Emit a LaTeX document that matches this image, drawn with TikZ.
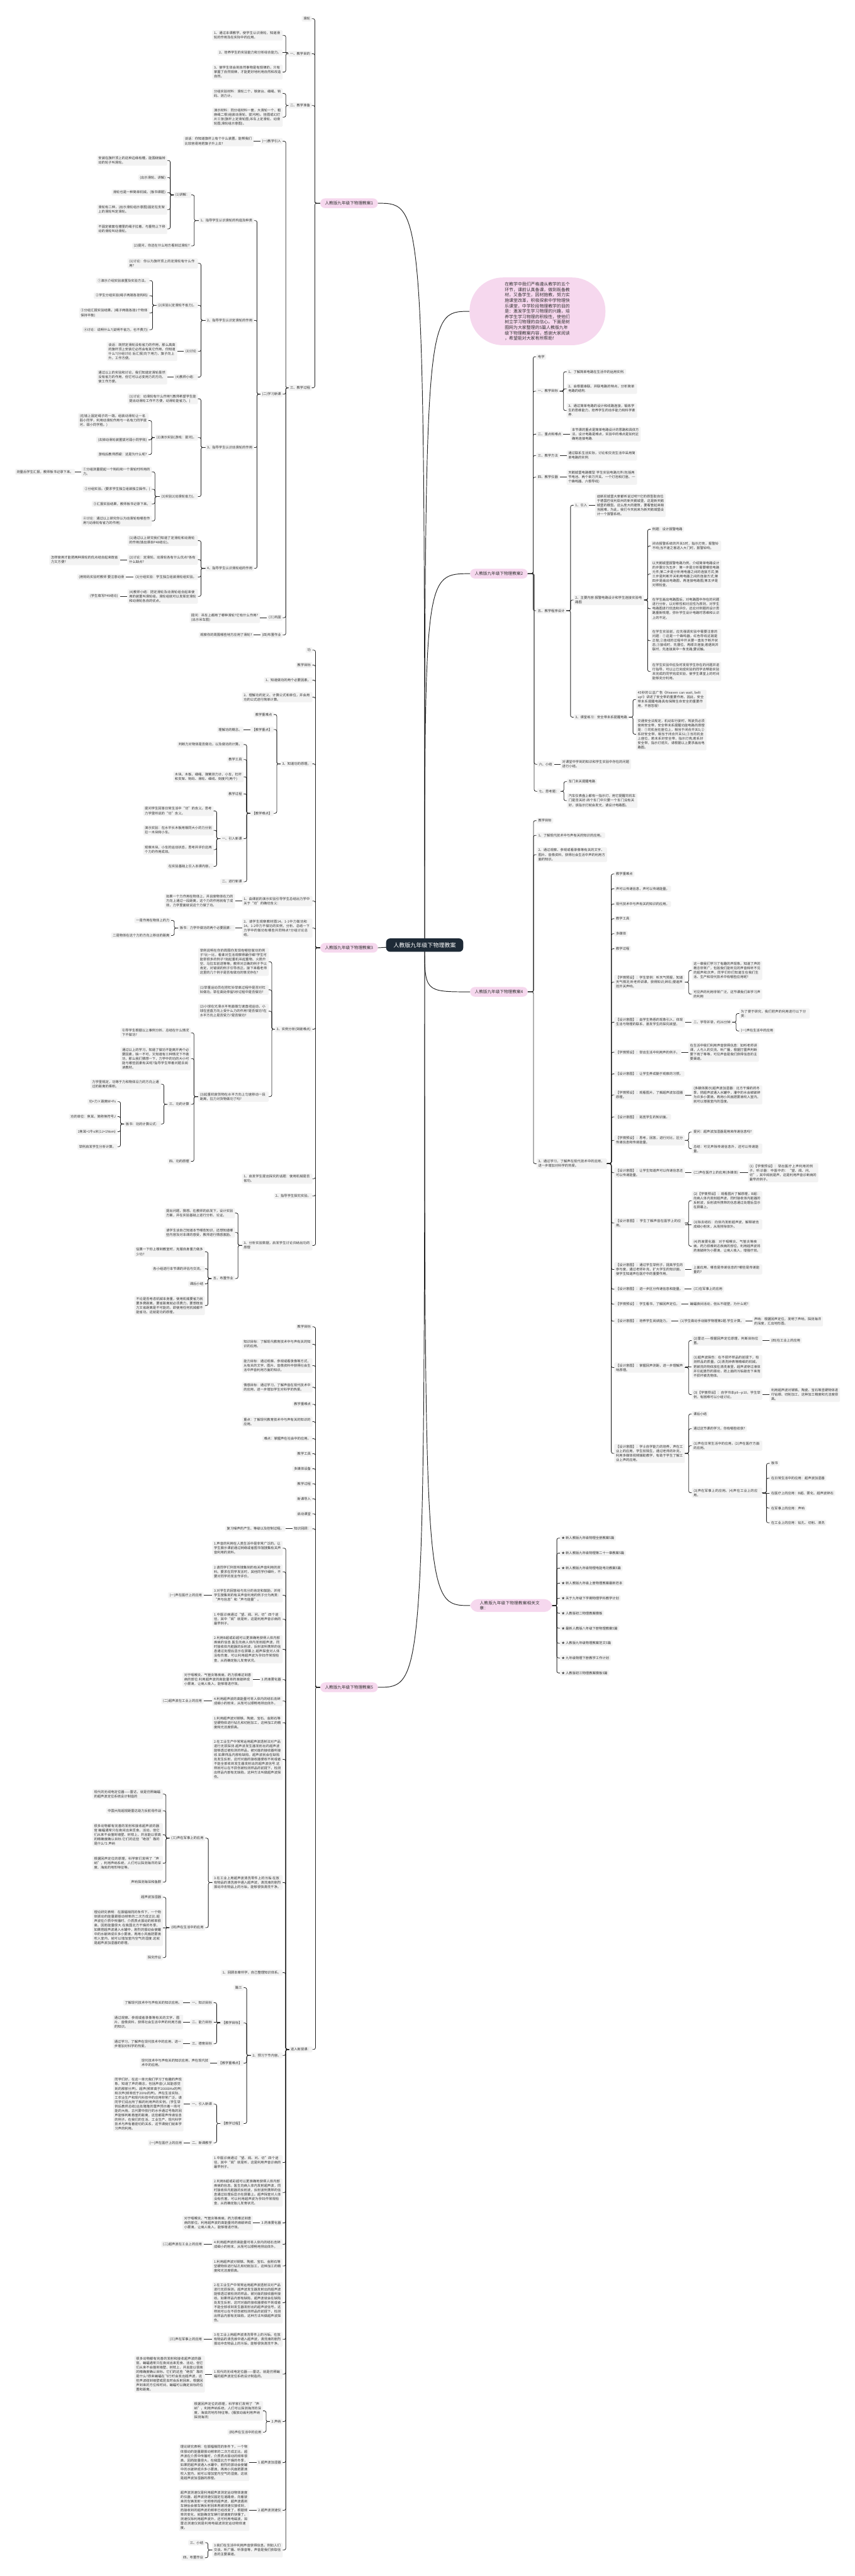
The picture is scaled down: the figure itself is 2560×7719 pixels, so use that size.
\documentclass[tikz,border=0pt]{standalone}
\usepackage{fontspec}
\newfontfamily\cjk{Noto Sans CJK SC}
\XeTeXlinebreaklocale "zh"
\XeTeXlinebreakskip=0pt plus 1pt
\definecolor{txt}{HTML}{333333}
\definecolor{boxc}{HTML}{F3F3F3}
\definecolor{pinkc}{HTML}{F6D8EE}
\definecolor{darkc}{HTML}{1E2A36}
\definecolor{linec}{HTML}{222222}
\newcommand\myfs{\cjk\fontsize{10}{13.3}\selectfont}
\newcommand\myL[4][]{\node[box,anchor=east,#1] (#2) at (#3) {#4};}
\newcommand\myR[4][]{\node[box,anchor=west,#1] (#2) at (#3) {#4};}
\newcommand\myLC[2]{\foreach \myc in {#2}{%
  \path (\myc.east); \pgfgetlastxy{\mycx}{\mycy}%
  \path (#1.west); \pgfgetlastxy{\mypx}{\mypy}%
  \pgfmathsetmacro\mydd{abs(\mycy-(\mypy))}%
  \ifdim\mydd pt<6pt \draw[conn] (\myc.east) -- (\myc.east -| #1.west);%
  \else \draw[conn] (\myc.east) -- ++(9,0) |- (#1.west);\fi}}
\newcommand\myRC[2]{\foreach \myc in {#2}{%
  \path (\myc.west); \pgfgetlastxy{\mycx}{\mycy}%
  \path (#1.east); \pgfgetlastxy{\mypx}{\mypy}%
  \pgfmathsetmacro\mydd{abs(\mycy-(\mypy))}%
  \ifdim\mydd pt<6pt \draw[conn] (\myc.west) -- (\myc.west -| #1.east);%
  \else \draw[conn] (\myc.west) -- ++(-9,0) |- (#1.east);\fi}}
\begin{document}
\begin{tikzpicture}[x=1pt,y=-1pt,
  box/.style={fill=boxc,rounded corners=3pt,inner xsep=5pt,inner ysep=4pt,font=\myfs,text=txt,align=left},
  mw/.style={text width=201pt},
  lvl/.style={fill=pinkc,rounded corners=14pt,inner xsep=14pt,inner ysep=6pt,minimum height=29pt,font=\cjk\fontsize{12.5}{15}\selectfont,text=txt},
  ctrs/.style={fill=darkc,text=white,rounded corners=12pt,inner xsep=22pt,minimum height=40pt,font=\cjk\fontsize{17}{20}\selectfont},
  bubble/.style={fill=pinkc,rounded corners=100pt,minimum width=407pt,minimum height=203pt,text width=196pt,align=left,inner sep=0pt,font=\cjk\fontsize{13}{16.3}\selectfont,text=txt},
  conn/.style={draw=linec,line width=1.5pt,rounded corners=5pt},
  conn0/.style={draw=linec,line width=1.8pt}]
\fill[white] (0,0) rectangle (2560,7719);
\useasboundingbox (0,0) rectangle (2560,7719);
\coordinate (cc) at (1272,2832);
% level 1
\node[lvl,anchor=east] (A) at (1132,609) {人教版九年级下物理教案1};
\node[lvl,anchor=east] (C) at (1132,2840) {人教版九年级下物理教案3};
\node[lvl,anchor=east] (E) at (1132,5056) {人教版九年级下物理教案5};
\node[bubble] (Q) at (1610,933) {在教学中我们严格遵从教学的五个\\环节，课前认真备课，做到既备教\\材，又备学生，因材施教，努力实\\施课堂改革，积极探索中学物理快\\乐课堂，中学阶段物理教学的目的\\是：激发学生学习物理的兴趣，培\\养学生学习物理的积极性，使他们\\树立学习物理的自信心。下面是树\\图网为大家整理的5篇人教版九年\\级下物理教案内容，感谢大家阅读\\，希望能对大家有所帮助！};
\node[lvl,anchor=west] (B) at (1408,1719) {人教版九年级下物理教案2};
\node[lvl,anchor=west] (D) at (1408,2972) {人教版九年级下物理教案4};
\node[lvl,anchor=west,text width=188pt,align=left,inner xsep=29pt,rounded corners=24pt] (F) at (1408,4811) {人教版九年级下物理教案相关文章：};
% ===== 教案1 =====
\myL{a1}{934,56}{滑轮}
\myL{a2}{934,161}{一、教学目的}
\myL{a3}{934,316}{二、教学准备}
\myL{a4}{934,1162}{三、教学过程}
\myL[mw]{a21}{847,106}{1、通过本课教学，使学生认识滑轮，知道滑轮的作用及在实际中的应用。}
\myL{a22}{847,158}{2、培养学生的实验能力和分析综合能力。}
\myL[mw]{a23}{847,216}{3、使学生体会到自然事物是有规律的，只有掌握了自然规律，才能更好地利用自然和改造自然。}
\myL[mw]{a31}{847,280}{分组实验材料：滑轮二个、铁架台、细绳、钩码、测力计。}
\myL[mw]{a32}{847,351}{演示材料：同分组材料一套，大滑轮一个、粗麻绳二根(组装动滑轮、拔河用)。挂图或幻灯片三张(旗杆上定滑轮图;吊车上定滑轮、动滑轮图;滑轮组示意图)。}
\myL{a41}{847,423}{(一)教学引入}
\myL{a42}{847,1181}{(二)学习新课}
\myL{a43}{847,1851}{(三)巩固}
\myL{a44}{847,1903}{(四)布置作业}
\myL[mw]{a411}{760,423}{谈话：你知道旗杆上有个什么装置，能帮我们比较容易地把旗子升上去?}
\myL{a421}{761,661}{1、指导学生认识滑轮的构造及种类}
\myL{a422}{761,960}{2、指导学生认识定滑轮的作用}
\myL{a423}{761,1341}{3、指导学生认识动滑轮的作用}
\myL{a424}{761,1703}{4、指导学生认识滑轮组的作用}
\myL{a4211}{573,584}{(1)讲解：}
\myL{a4212}{573,737}{(2)提问，你还在什么地方看到过滑轮?}
\myL[mw]{x1}{501,481}{安装在旗杆顶上的这种边缘有槽，能围绕轴转动的轮子叫滑轮。}
\myL{x2}{501,532}{(出示滑轮、讲解)}
\myL{x3}{501,577}{滑轮也是一种简单机械。(板书课题)}
\myL[mw]{x4}{501,628}{滑轮有二种，(出示滑轮组示意图)固定在支架上的滑轮叫定滑轮。}
\myL[mw]{x5}{501,686}{不固定被套在槽里的绳子拉着，与重物上下移动的滑轮叫动滑轮。}
\myL[mw]{b1}{593,789}{(1)讨论：你认为旗杆顶上的定滑轮有什么作用?}
\myL{b2}{593,915}{(2)实验1(定滑轮不省力)。}
\myL{b3}{593,1053}{(3)讨论}
\myL{b4}{593,1130}{(4)教师小结：}
\myL{b21}{448,841}{①演示介绍实验装置及实验方法。}
\myL{b22}{448,886}{②学生分组实验(绳子两端各挂钩码)}
\myL[mw]{b23}{448,938}{③分组汇报实验结果。(绳子两端各挂1个物体保持平衡)}
\myL{b24}{448,988}{④讨论：说明什么?(说明不省力，也不费力)}
\myL[mw]{b31}{531,1053}{谈话：既然定滑轮没有省力的作用，那么高高的旗杆顶上安装它必然会有其它作用，你知道什么?(分组讨论 后汇报)向下用力，旗子向上升。工作方便。}
\myL[mw]{b41}{501,1130}{通过以上的实验和讨论，我们知道定滑轮虽然没有省力的作用，但它可以必变用力的方向，使工作方便。}
\myL[mw]{c1}{593,1195}{(1)讨论：动滑轮有什么作用?(教师希望学生能提出动滑轮工作不方便，动滑轮能省力。)}
\myL{c2}{593,1311}{(2)演示实验(游戏：拔河)。}
\myL{c3}{593,1488}{(3)实验2(动滑轮省力)。}
\myL[mw]{c21}{445,1260}{(在墙上固定绳子的一端，组装动滑轮让一名弱小同学，利用动滑轮作用与一名有力同学拔河，弱小同学胜。)}
\myL{c22}{445,1318}{(去掉动滑轮装置拔河弱小同学败)}
\myL{c23}{445,1362}{游戏后教师质疑：这是为什么呢?}
\myL[mw]{c31}{455,1414}{①分组测量提起一个钩码和一个滑轮时所用的力。}
\myL{c32}{455,1466}{②分组实验。(要求学生独立组装独立操作。)}
\myL{c33}{455,1510}{③汇报实验结果，教师板书记录下来。}
\myL[mw]{c34}{455,1561}{④讨论：通过以上研究你认为动滑轮有哪些作用?(动滑轮有省力的作用)}
\myL{c311}{225,1414}{测量后学生汇报，教师板书记录下来。}
\myL[mw]{d1}{593,1620}{(1)通过以上研究我们知道了定滑轮和动滑轮的作用(填出课本P48结论)。}
\myL[mw]{d2}{593,1677}{(2)讨论：定滑轮、动滑轮各有什么优点?各有什么缺点?}
\myL{d3}{593,1729}{(3)分组实验：学生独立组装滑轮组实验。}
\myL[mw]{d4}{593,1787}{(4)教师小结：把定滑轮及动滑轮组合起来使用的装置叫滑轮组。滑轮组就可以发挥定滑轮和动滑轮各自的优点。}
\myL[mw]{d21}{359,1678}{怎样使用才能把两种滑轮的优点结合起来既省力又方便?}
\myL{d31}{377,1729}{(用钩码实验时教师 要注意动滑}
\myL{d41}{359,1787}{(学生填写P49结论)}
\myL[mw]{a431}{779,1851}{提问：吊车上都用了哪种滑轮?它有什么作用?(出示吊车图)}
\myL{a441}{760,1903}{观察你的周围哪些地方应用了滑轮?}
% ===== 教案3 =====
\myL{C1}{936,1948}{功}
\myL{C2}{936,1993}{教学目标}
\myL{C3}{936,2038}{1、知道做功的两个必要因素。}
\myL[mw]{C4}{936,2089}{2、理解功的定义、计算公式和单位，并会用功的公式进行简单计算。}
\myL{C5}{936,2289}{3、知道功的原理。}
\myL[mw]{C6}{936,2700}{1、由课前的演示实验引导学生总结出力学中关于“功”的确切含义：}
\myL[mw]{C7}{936,2781}{2、请学生观察教材图14。1-1中力做功和14。1-2中力不做功的实例，分析、总结一下力学中的做功有哪些共同特点?分组讨论总结。}
\myL{C8}{936,3084}{3、实例分析(突破难点)}
\myL[mw]{C9}{936,3532}{1、启发学生提出探究的话题：使用机械是否省功。}
\myL{C10}{936,3584}{2、指导学生探究实验。}
\myL[mw]{C11}{936,3732}{3、分析实验数据，启发学生讨论归纳出功的原理}
\myL{C51}{820,2141}{教学重难点}
\myL{C52}{820,2186}{【教学重点】}
\myL{C53}{820,2437}{【教学难点】}
\myL{C521}{730,2186}{理解功的概念。}
\myL{C531}{730,2231}{判断力对物体是否做功，以及做功的计算。}
\myL{C532}{730,2276}{教学工具}
\myL[mw]{C533}{730,2328}{木块、木板、细绳、弹簧测力计、小车，杠杆和支架、钩码、滑轮、细线、刻度尺(两个)}
\myL{C534}{730,2379}{教学过程}
\myL{C535}{730,2513}{一、引入新课}
\myL{C536}{730,2642}{二、进行新课}
\myL[mw]{C5351}{640,2430}{提问学生回答日常生活中“功”的含义。思考力学里所说的“功”含义。}
\myL[mw]{C5352}{640,2488}{演示实验：在水平长木板用相同大小的力分别拉一木块和小车。}
\myL[mw]{C5353}{640,2546}{观察木块、小车的运动状态，思考并评价这两个力的作用成效。}
\myL{C5354}{640,2596}{在实验基础上引入本课内容。}
\myL[mw]{C61}{704,2700}{如果一个力作用在物体上，并且使物体在力的方向上通过一段距离，这个力的作用就有了成效，力学里面就说这个力做了功。}
\myL{C71}{704,2781}{板书：力学中做功的两个必要因素：}
\myL{C711}{513,2758}{一是作用在物体上的力}
\myL{C712}{513,2803}{二是物体在这个力的方向上移动的距离}
\myL[mw]{C81}{805,2882}{举例说明在你的周围你发现有哪些做功的例子?比一比，看谁对生活观察得最仔细?学生可能举很多的例子?如起重机吊起重物、火箭升空、马拉车前进等等。教师对正确的例子予以肯定，对错误的例子引导改正。接下来看老师这里的几个例子是否有做功的情况存在?}
\myL[mw]{C82}{805,2966}{(1)举重运动员在把杠铃举高过程中是否对杠铃做功。举在高处停留5秒过程中是否做功?}
\myL[mw]{C83}{805,3030}{(2)小球在光滑水平地面做匀速直线运动，小球在竖直方向上受什么力的作用?是否做功?在水平方向上是否受力?是否做功?}
\myL[mw]{C84}{805,3286}{(3)起重机使货物在水平方向上匀速移动一段距离，拉力对货物做功了吗?}
\myL[mw]{C841}{572,3095}{引导学生根据以上事例分析、总结在什么情况下不做功?}
\myL[mw]{C842}{572,3172}{通过以上的学习，知道了做功不能离开两个必要因素，缺一不可，又知道有三种情况下不做功，那么我们猜想一下，力学中的功的大小可能与哪些因素有关呢?指导学生带着问题去阅读教材。}
\myL{C843}{572,3309}{三、功的计算}
\myL{C844}{572,3480}{四、功的原理}
\myL[mw]{C8431}{482,3249}{力学里规定，功等于力和物体沿力的方向上通过的距离的乘积。}
\myL{C8432}{482,3368}{板书：功的计算公式：}
\myL{p1}{352,3301}{功=力×距离W=Fs}
\myL{p2}{352,3346}{功的单位：焦耳，简称焦符号J}
\myL{p3}{352,3391}{1焦耳=1牛o米(1J=1Nom)}
\myL{p4}{352,3436}{举例启发学生分析计算。}
\myL[mw]{C111}{704,3635}{提出问题，猜想。在教师的启发下，设计实验方案，并在实验基础上进行分析、论证。}
\myL[mw]{C112}{704,3693}{请学生谈自己知道本节哪些知识，还想知道哪些内容及对本课的感受，教师进行情感激励。}
\myL{C113}{704,3831}{五、布置作业}
\myL[mw]{C1131}{614,3751}{估算一下你上楼到教室时，克服自身重力做多少功?}
\myL{C1132}{614,3802}{各小组进行本节课的评估与交流。}
\myL{C1133}{614,3847}{课后小结}
\myL[mw]{C1134}{614,3912}{不论是否考虑机械本身重，使用机械要省力就要多费距离，要省距离就必须费力，要想既省力又省距离是不可能的。即使用任何机械都不能省功。这就是功的原理。}
% ===== 教案5 =====
\myL{E1}{936,3976}{教学目标}
\myL[mw]{E2}{936,4028}{知识目标：了解现代教育技术中与声有关的知识的应用。}
\myL[mw]{E3}{936,4092}{能力目标：通过观察、参观或看录像等方式，从有关的文字、图片、音像资料中获得社会生活中声音利用方面的知识。}
\myL[mw]{E4}{936,4157}{情感目标：通过学习，了解声音在现代技术中的应用，进一步增加学生对科学的热爱。}
\myL{E5}{936,4208}{教学重难点}
\myL[mw]{E6}{936,4260}{重点：了解现代教育技术中与声有关的知识的应用。}
\myL{E7}{936,4311}{难点：掌握声在社会中的应用。}
\myL{E8}{936,4356}{教学工具}
\myL{E9}{936,4401}{多媒体设备}
\myL{E10}{936,4446}{教学过程}
\myL{E11}{936,4491}{新课导入}
\myL{E12}{936,4536}{启动课堂}
\myL{E13}{936,4581}{知识回顾：}
\myL{E14}{936,6141}{进入新授课：}
\myL{E131}{855,4581}{复习噪声的产生、等级以及控制过程。}
\myL[mw]{F1}{847,4639}{1.声音的利用在人类生活中是非常广泛的。让学生展示课前通过网络或者图书馆搜集有关声音利用的资料。}
\myL[mw]{F2}{847,4710}{2.请同学们列举所搜集到的有关声音利用的资料。要求在同学发言时，其他同学仔细听，不要对同学的发言作评价。}
\myL[mw]{F3}{847,4780}{3.对学生的回答给与充分的肯定和鼓励，并将学生搜集到的有关声音利用的例子分为两类：“声与信息”和“声与能量”。}
\myL{F31}{610,4780}{(一)声在医疗上的应用}
\myL[mw]{F4}{847,4852}{1.中医诊病通过“望、闻、问、切”四个途径，其中“闻”就是听，这是利用声音诊病的最早例子。}
\myL[mw]{F5}{847,4942}{2.利用B超或彩超可以更准确地获得人体内部疾病的信息.医生向病人体内发射超声波，同时接收体内脏器的反射波，反射波所携带的信息通过处理后显示在屏幕上.超声探查对人体没有伤害，可以利用超声波为孕妇作常规检查，从而确定胎儿发育状况。}
\myL{F6}{847,5033}{3.药液雾化器}
\myL[mw]{F61}{758,5033}{对于咽喉炎、气管炎等疾病，药力很难达到患病的部位.利用超声波的高能量将药液破碎成小雾滴，让病人吸入，能够增进疗效。}
\myL[mw]{F7}{847,5097}{4.利用超声波的高能量可将人体内的结石击碎成细小的粉末，从而可以顺畅地排出体外。}
\myL{F71}{610,5097}{(二)超声波在工业上的应用}
\myL[mw]{F8}{847,5162}{1.利用超声波对钢铁、陶瓷、宝石、金刚石等坚硬物体进行钻孔和切削加工，这种加工的精度和光洁度很高。}
\myL[mw]{F9}{847,5272}{2.在工业生产中常常运用超声波透射法对产品进行无损探测.超声波发生器发射出的超声波能够透过被检测的样品，被对面的接收器所接收.如果样品内部有缺陷，超声波就会在缺陷处发生反射，这时对面的接收器便收不到或者不能全部收到发生器发射出的超声波信号.这样就可以在不损伤被检测样品的前提下，检测出样品内部有无缺陷，这种方法叫做超声波探伤。}
\myL[mw]{F10}{847,5641}{3.在工业上用超声波清洗零件上的污垢.在放有物品的清洗液中通入超声波，清洗液的剧烈振动冲击物品上的污垢，能够很快清洗干净。}
\myL{F101}{615,5508}{(三)声在军事上的应用}
\myL{F102}{615,5776}{(四)声在生活中的应用}
\myL[mw]{r1}{488,5376}{现代的无线电定位器——雷达，就是仿照蝙蝠的超声波定位系统设计制造的}
\myL{r2}{488,5426}{中国大陆超视距雷达助力反航母作战}
\myL[mw]{r3}{488,5498}{很多动物都有完善的发射和接收超声波的器官.蝙蝠通常只在夜间出来觅食、活动，但它们从来不会撞到墙壁、树枝上，并且能以很高的精确度确认目标.它们的这些“绝技”靠的是什么?2.声纳}
\myL[mw]{r4}{488,5583}{根据回声定位的原理，科学家们发明了“声纳”，利用声纳系统，人们可以探测海洋的深度、海底的地形特征等。}
\myL{r5}{488,5640}{声呐探测海深和鱼群}
\myL{s1}{488,5685}{超声波加湿器}
\myL[mw]{s2}{488,5776}{理论研究表明：在振幅相同的条件下，一个物体振动的能量跟振动频率的二次方成正比.超声波在介质中传播时，介质质点振动的频率很高，因而能量很大.在我国北方干燥的冬季，如果把超声波通入水罐中，剧烈的振动会使罐中的水破碎成许多小雾滴，再用小风扇把雾滴吹入室内，就可以增加室内空气的湿度.这就是超声波加湿器的原理。}
\myL{s3}{488,5866}{探究作业}
\myL{F11}{847,5911}{1、回顾本章所学，自己整理知识体系。}
\myL{F12}{847,6159}{2、预习下节内容。}
\myL{G1}{730,5956}{篇三}
\myL{G2}{730,6062}{【教学目标】}
\myL{G3}{730,6182}{【教学重难点】}
\myL{G4}{730,6363}{【教学过程】}
\myL{G21}{640,6001}{一、知识目标}
\myL{G22}{640,6059}{二、能力目标}
\myL{G23}{640,6124}{三、德育目标}
\myL{G211}{549,6001}{了解现代技术中与声有关的知识应用。}
\myL[mw]{G221}{549,6059}{通过观察、参观或者录像等有关的文字、图片、音像资料，获得社会生活中声的利用方面的知识。}
\myL[mw]{G231}{549,6124}{通过学习，了解声在现代技术中的应用，进一步增加对科学的热爱。}
\myL[mw]{G31}{630,6182}{现代技术中与声有关的知识应用，声在现代技术中的应用。}
\myL{G41}{640,6305}{一、引入新课}
\myL{G42}{640,6421}{二、新课教学}
\myL[mw]{G411}{550,6305}{同学们好，在这一单元我们学习了有趣的声现象，知道了声的概念，包括声音(人耳能感觉到的那部分声)、超声(频率高于20000Hz的声)和次声(频率低于20Hz的声)。声在生活实际、工农业生产和现代科技中的应用非常广泛，请同学们说出所了解的利用声的实例。(学生举例后教师总结)远处隆隆的雷声预示着一场可能的大雨。古代雾中航行的水手通过号角的回声能够判断悬崖的距离，这些都是声传递信息的例子。在我们的生活、工业生产、现代科学技术与声有着密切的关系，这节课我们就来学习声的利用。}
\myL{G421}{550,6421}{(一)声在医疗上的应用}
\myL[mw]{F13}{847,6480}{1.中医诊病通过“望、闻、问、切”四个途径，其中“闻”就是听，这是利用声音诊病的最早例子。}
\myL[mw]{F14}{847,6570}{2.利用B超或彩超可以更准确地获得人体内部疾病的信息。医生向病人体内发射超声波，同时接收体内脏器的反射波，反射波所携带的信息通过处理后显示在屏幕上。超声探查对人体没有伤害，可以利用超声波为孕妇作常规检查，从而确定胎儿发育状况。}
\myL{F15}{847,6661}{3.药液雾化器}
\myL[mw]{F151}{758,6661}{对于咽喉炎、气管炎等疾病，药力很难达到患病的部位。利用超声波的高能量将药液破碎成小雾滴，让病人吸入，能够增进疗效。}
\myL[mw]{F16}{847,6725}{4.利用超声波的高能量可将人体内的结石击碎成细小的粉末，从而可以顺畅地排出体外。}
\myL{F161}{610,6725}{(二)超声波在工业上的应用}
\myL[mw]{F17}{847,6790}{1.利用超声波对钢铁、陶瓷、宝石、金刚石等坚硬物体进行钻孔和切削加工，这种加工的精度和光洁度很高。}
\myL[mw]{F18}{847,6900}{2.在工业生产中常常运用超声波透射法对产品进行无损探测。超声波发生器发射出的超声波能够透过被检测的样品，被对面的接收器所接收。如果样品内部有缺陷，超声波就会在缺陷处发生反射，这时对面的接收器便收不到或者不能全部收到发生器发射出的超声波信号。这样就可以在不损伤被检测样品的前提下，检测出样品内部有无缺陷，这种方法叫做超声波探伤。}
\myL[mw]{F19}{847,7010}{3.在工业上用超声波清洗零件上的污垢。在放有物品的清洗液中通入超声波，清洗液的剧烈振动冲击物品上的污垢，能够很快清洗干净。}
\myL{F191}{610,7010}{(三)声在军事上的应用}
\myL[mw]{F20}{847,7114}{1.现代的无线电定位器——雷达，就是仿照蝙蝠的超声波定位系统设计制造的。}
\myL[mw]{F201}{614,7114}{很多动物都有完善的发射和接收超声波的器官。蝙蝠通常只在夜间出来觅食、活动，但它们从来不会撞到墙壁、树枝上，并且能以很高的精确度确认目标。它们的这些“绝技”靠的是什么?原来蝙蝠在飞行时会发出超声波，这些声波碰到墙壁或昆虫时会反射回来，根据回声到来的方位和时间，蝙蝠可以确定目标的位置和距离。}
\myL{F21}{847,7256}{2.声纳}
\myL[mw]{F211}{788,7224}{根据回声定位的原理，科学家们发明了“声纳”，利用声纳系统，人们可以探测海洋的深度、海底的地形特征等。(播放动画利用声纳探测海洋)}
\myL{F212}{788,7288}{(四)声在生活中的应用}
\myL{F22}{847,7379}{1.超声波加湿器}
\myL[mw]{F221}{747,7379}{理论研究表明：在振幅相同的条件下，一个物体振动的能量跟振动频率的二次方成正比。超声波在介质中传播时，介质质点振动的频率很高，因而能量很大。在我国北方干燥的冬季，如果把超声波通入水罐中，剧烈的振动会使罐中的水破碎成许多小雾滴，再用小风扇把雾滴吹入室内，就可以增加室内空气的湿度。这就是超声波加湿器的原理。}
\myL{F23}{847,7522}{2.超声波测速仪}
\myL[mw]{F231}{747,7522}{超声波测速仪是利用超声波测定运动物体速度的仪器，超声波测速仪固定在道路旁，向着驶来的车辆发射一定频率的超声波，超声波遇到车辆后会被车辆反射回来再被测速仪接收到，而接收到的超声波的频率已经改变了，根据频率的变化，就能确定车辆行驶速度的快慢了。测速仪除利用超声波外，还可利用电磁波，如雷达测速仪就是利用电磁波测定运动物体速度。}
\myL[mw]{F24}{847,7641}{3.我们在生活中利用声音获得信息。例如人们交谈、听广播、听录音等，声音是我们获取信息的主要渠道。}
\myL{F241}{614,7619}{三、小结}
\myL{F242}{614,7664}{四、布置作业}
% ===== 教案2 =====
\myR{B1}{1606,1069}{电学}
\myR{B2}{1606,1172}{一、教学目标}
\myR{B3}{1606,1301}{二、重点和难点}
\myR{B4}{1606,1365}{三、教学方法}
\myR{B5}{1606,1430}{四、教学仪器}
\myR{B6}{1606,1830}{五、教学程序设计}
\myR{B7}{1609,2290}{六、小结}
\myR{B8}{1609,2371}{七、思考题：}
\myR{B21}{1697,1114}{1、了解简单电路在生活中的运用实例.}
\myR[mw]{B22}{1697,1165}{2、会根据串联、并联电路的特点，分析简单电路的结构.}
\myR[mw]{B23}{1697,1230}{3、通过简单电路的设计和线路连接，锻炼学生的思维能力，培养学生的动手能力和科学素养.}
\myR[mw]{B31}{1708,1301}{本节课的重点是简单电路设计的思路和具体方法，设计电路是难点，实验中的难点是如何正确地连接电路.}
\myR[mw]{B41}{1697,1365}{通过联系生活实际，讨论和交流生活中采用简单电路的实例.}
\myR[mw]{B51}{1697,1430}{天鹅城堡电路模型 学生实验电路元件(包括两节电池、两个单刀开关、一个灯泡和灯座、一个蜂鸣器、六根导线)}
\myR{B61}{1718,1514}{1、引入}
\myR[mw]{B62}{1718,1798}{2、主要内容:报警电路设计和学生连接实验电路图}
\myR{B63}{1718,2149}{3、课堂练习：安全带未系提醒电路}
\myR[mw]{B611}{1783,1514}{迪斯尼城堡大家都听说过吧?!它的原型取自位于德国巴伐利亚州的新天鹅城堡，这是新天鹅城堡的模型。这么庞大的建筑，要看管起来相当困难，为此，我们今天就来为新天鹅城堡设计一个报警系统。}
\myR{B621}{1949,1586}{例题：设计报警电路}
\myR[mw]{B622}{1949,1636}{闭合报警系统的开关S时，指示灯亮，报警铃不响;当不速之客进入大门时，报警铃响。}
\myR[mw]{B623}{1949,1720}{以天鹅城堡报警电路为例，介绍简单电路设计的步骤分为五步：第一步是分析需要哪些电路元件;第二步是分析用电器之间的连接方式;第三步是判断开关和用电器之间的连接方式;第四步是画出电路图，再连接电路图;第五步是对照检查。}
\myR[mw]{B624}{1949,1824}{在学生画出电路图后，对电路图中存在的问题进行分析，以对称性和对应性为原则，对学生电路图进行优选和评价。还应对例题的设计思路重新梳理，弥补学生设计电路时思维和认识上的不足。}
\myR[mw]{B625}{1949,1920}{在学生实验前，应先强调实验中需要注意的问题：①这是一个蜂鸣器，红色导线这端是正极;②连线的过程中开关要一直处于断开状态;③接线时，先摆位，再顺次连接;若遇到并联时，先连接其中一条支路;要试触。}
\myR[mw]{B626}{1949,2012}{在学生实验中应及时发现学生存在的问题并进行指导，可以让已完成实验的同学去帮助实验未完成的同学完成实验，使学生课堂上的时间能够充分利用。}
\myR[mw]{B631}{1905,2096}{45秒的公益广告《Heaven can wait, belt up!》讲述了安全带的重要作用，因此，安全带未系提醒电路具有保障生命安全的重要作用，不容忽视!}
\myR[mw]{B632}{1905,2200}{交通安全法规定，机动车行驶时，驾驶员必须使用安全带，安全带未系提醒功能电路的原理是：①司机坐在座位上，相当于闭合开关S;②系好安全带，相当于闭合开关S1;③当司机坐上座位，若未系好安全带，指示灯亮;若系好安全带，指示灯熄灭。请根据以上要求画出电路图。}
\myR[mw]{B71}{1679,2290}{对课堂中学到的知识和学生实验中存在的问题进行小结。}
\myR{B81}{1698,2342}{车门未关提醒电路}
\myR[mw]{B82}{1698,2399}{汽车仪表盘上都有一指示灯，用它提醒司机车门是否关好.四个车门中只要一个车门没有关好，该指示灯就会发光，请设计电路图。}
% ===== 教案4 =====
\myR{D1}{1607,2459}{教学目标}
\myR{D2}{1607,2503}{1、了解现代技术中与声有关的知识的应用。}
\myR[mw]{D3}{1607,2561}{2、通过观察、参观或看录像等有关的文字、图片、音像资料，获得社会生活中声的利用方面的知识。}
\myR[mw]{D4}{1607,3487}{3、通过学习，了解声在现代技术中的应用，进一步增加对科学的热爱。}
\myR{H1}{1840,2619}{教学重难点}
\myR{H2}{1840,2663}{声可以传递信息，声可以传递能量。}
\myR{H3}{1840,2709}{现代技术中与声有关的知识的应用。}
\myR{H4}{1840,2753}{教学工具}
\myR{H5}{1840,2798}{多媒体}
\myR{H6}{1840,2843}{教学过程}
\myR[mw]{H7}{1840,2943}{【学情预设】：学生举例：听天气预报，知道天气情况;听老师讲课，获得知识;碎石;楼道声控开关声响。}
\myR[mw]{H71}{2072,2908}{这一章我们学习了有趣的声现象，知道了声的概念非常广，包括我们能听见的声音和听不见的超声和次声，同学们你们知道生在我们生活、生产和现代技术中有哪些应用呢?}
\myR[mw]{H72}{2072,2979}{可见声的利用非常广泛，这节课我们来学习声的利用}
\myR[mw]{H8}{1840,3063}{【设计意图】：由学生熟悉的现象引入，体现生活与物理的联系，激发学生的探究欲望。}
\myR{H81}{2072,3063}{二、学导并举，约26分钟}
\myR[mw]{H811}{2214,3037}{为了便于研究，我们把声的利用进行以下分类：}
\myR{H812}{2214,3089}{(一)声在生活中的应用}
\myR{H9}{1840,3153}{【学情预设】：举出生活中利用声的例子。}
\myR[mw]{H91}{2062,3153}{在生活中我们利用声音获得信息：如听老师讲课，人与人的交流，听广播，根据打雷声判断要下雨了等等，可见声音是我们获得信息的主要渠道。}
\myR{H10}{1840,3218}{【设计意图】：让学生养成勤于观察的习惯。}
\myR[mw]{H11}{1840,3281}{【学情预设】：观看图片，了解超声波加湿器原理。}
\myR[mw]{H111}{2072,3281}{(多媒体展示)超声波加湿器：北方干燥的的冬季，把超声波通入水罐中，灌中的水会被破碎为许多小雾滴，再用小风扇把雾滴吹入室内，就可以增强室内的湿度。}
\myR{H12}{1840,3347}{【设计意图】：拓宽学生的知识面。}
\myR[mw]{H13}{1840,3417}{【学情预设】：思考，回答，进行对比，区分传递信息和传递能量。}
\myR{H131}{2072,3392}{提问：超声波加湿器是用来传递信息吗?}
\myR[mw]{H132}{2072,3442}{总结：可见声除传递信息外，还可以传递能量。}
\myR[mw]{H14}{1840,3514}{【设计意图】：让学生知道声可以传递信息还可以传递能量。}
\myR{H141}{2072,3514}{(二)声在医疗上的应用(多媒体)}
\myR[mw]{H1411}{2240,3514}{(1)【学情预设】：举出医疗上声利用的例子。听诊器：中医中的：“望、闻、问、切”，其中闻就是声，这是利用声音诊断病的最早的例子。}
\myR[mw]{H15}{1840,3665}{【设计意图】：学生了解声音在医学上的应用。}
\myR[mw]{H151}{2072,3598}{(2)【学情预设】：观看图片了解原理，B超：向病人体内发射超声波，同时接收体内脏器的反射波，反射波所携带的信息通过处理后显示在屏幕上。}
\myR[mw]{H152}{2072,3669}{(3)除去结石：向体内发射超声波，解释被击成细小粉末，从而排除体外。}
\myR[mw]{H153}{2072,3734}{(4)药液雾化器：对于咽喉炎、气管炎等疾病，药力很难到达疾病的部位，利用超声波将药液破碎为小雾滴，让病人吸入，增强疗效。}
\myR[mw]{H16}{1840,3804}{【设计意图】：通过学生举例子，提高学生的参与度，通过老师补充，扩大学生的知识面，使学生知道声在医疗中的重要作用。}
\myR[mw]{H161}{2072,3804}{上面应用，哪些是传递信息的?哪些是传递能量的?}
\myR{H17}{1840,3863}{【设计意图】：进一步区分传递信息和能量。}
\myR{H171}{2072,3863}{(三)在军事上的应用}
\myR{H18}{1840,3908}{【学情预设】：学生看书，了解回声定位。}
\myR{H181}{2062,3908}{蝙蝠夜间活动，但从不碰壁，为什么呢?}
\myR{H19}{1840,3959}{【设计意图】：培养学生阅读能力。}
\myR{H191}{2032,3959}{(1)学生做动手动脑学物理第2题.学生计算。}
\myR[mw]{H1911}{2254,3959}{声呐：根据回声定位，发明了声呐，探测海洋的深度，汇出地形图。}
\myR[mw]{H20}{1840,4098}{【设计意图】：掌握回声测距，进一步理解声呐原理。}
\myR[mw]{H201}{2072,4017}{(2)雷达——根据回声定位原理，判断目标位置。}
\myR{H2011}{2305,4017}{(四)在工业上的应用}
\myR[mw]{H202}{2072,4095}{(1)超声波探伤：在不损坏样品的前提下，检测样品的质量。(2)清洗钟表等精细的机械。把被洗的物体放在清洗液里，超声波穿过液体并引起激烈的振动，把上面的污垢敲击下来而不损坏被洗物体。}
\myR[mw]{H203}{2072,4179}{(3)【学情预设】：自学书本p9—p10，学生举例，有困难可以小组讨论。}
\myR[mw]{H2031}{2305,4179}{利用超声波对钢铁，陶瓷、宝石等坚硬物体进行钻眼、切削加工，这种加工精度和光洁度很高。}
\myR[mw]{H21}{1840,4355}{【设计意图】：学士自学能力的培养，声在工业上的应用，学生较陌生，通过老师的补充，利用多媒体视频辅助教学，有助于学生了解工业上声的应用。}
\myR{H211}{2072,4237}{课后小结}
\myR{H212}{2072,4281}{通过这节课的学习，你有哪些收获?}
\myR[mw]{H213}{2072,4332}{(1)声在日常生活中的应用。(2)声在医疗方面的应用。}
\myR[mw]{H214}{2072,4473}{(3)声在军事上的应用。(4)声在工业上的应用。}
\myR{K1}{2305,4385}{板书}
\myR{K2}{2305,4429}{在日常生活中的应用：超声波加湿器}
\myR{K3}{2305,4474}{在医疗上的应用：B超、雾化、超声波碎石}
\myR{K4}{2305,4519}{在军事上的应用：声呐}
\myR{K5}{2305,4563}{在工业上的应用：钻孔、切削、清洗}
% ===== 相关文章 =====
\myR{R1}{1677,4609}{★ 新人教版九年级物理全册教案5篇}
\myR{R2}{1677,4654}{★ 新人教版九年级物理第二十一章教案5篇}
\myR{R3}{1677,4699}{★ 新人教版九年级物理电能电功教案5篇}
\myR{R4}{1677,4744}{★ 新人教版九年级上册物理教案最新范本}
\myR{R5}{1677,4789}{★ 关于九年级下学期物理学科教学计划}
\myR{R6}{1677,4834}{★ 人教版初二物理教案模板}
\myR{R7}{1677,4879}{★ 最新人教版八年级下册物理教案5篇}
\myR{R8}{1677,4924}{★ 人教版九年级物理教案范文5篇}
\myR{R9}{1677,4968}{★ 九年级物理下册教学工作计划}
\myR{R10}{1677,5013}{★ 人教版初三物理教案模板5篇}
% ===== connectors =====
\myLC{A}{a1,a2,a3,a4}
\myLC{a2}{a21,a22,a23}
\myLC{a3}{a31,a32}
\myLC{a4}{a41,a42,a43,a44}
\myLC{a41}{a411}
\myLC{a42}{a421,a422,a423,a424}
\myLC{a421}{a4211,a4212}
\myLC{a4211}{x1,x2,x3,x4,x5}
\myLC{a422}{b1,b2,b3,b4}
\myLC{b2}{b21,b22,b23,b24}
\myLC{b3}{b31}
\myLC{b4}{b41}
\myLC{a423}{c1,c2,c3}
\myLC{c2}{c21,c22,c23}
\myLC{c3}{c31,c32,c33,c34}
\myLC{c31}{c311}
\myLC{a424}{d1,d2,d3,d4}
\myLC{d2}{d21}
\myLC{d3}{d31}
\myLC{d4}{d41}
\myLC{a43}{a431}
\myLC{a44}{a441}
\myLC{C}{C1,C2,C3,C4,C5,C6,C7,C8,C9,C10,C11}
\myLC{C5}{C51,C52,C53}
\myLC{C52}{C521}
\myLC{C53}{C531,C532,C533,C534,C535,C536}
\myLC{C535}{C5351,C5352,C5353,C5354}
\myLC{C6}{C61}
\myLC{C7}{C71}
\myLC{C71}{C711,C712}
\myLC{C8}{C81,C82,C83,C84}
\myLC{C84}{C841,C842,C843,C844}
\myLC{C843}{C8431,C8432}
\myLC{C8432}{p1,p2,p3,p4}
\myLC{C11}{C111,C112,C113}
\myLC{C113}{C1131,C1132,C1133,C1134}
\myLC{E}{E1,E2,E3,E4,E5,E6,E7,E8,E9,E10,E11,E12,E13,E14}
\myLC{E13}{E131}
\myLC{E14}{F1,F2,F3,F4,F5,F6,F7,F8,F9,F10,F11,F12,F13,F14,F15,F16,F17,F18,F19,F20,F21,F22,F23,F24}
\myLC{F3}{F31}
\myLC{F6}{F61}
\myLC{F7}{F71}
\myLC{F10}{F101,F102}
\myLC{F101}{r1,r2,r3,r4,r5}
\myLC{F102}{s1,s2,s3}
\myLC{F12}{G1,G2,G3,G4}
\myLC{G2}{G21,G22,G23}
\myLC{G21}{G211}
\myLC{G22}{G221}
\myLC{G23}{G231}
\myLC{G3}{G31}
\myLC{G4}{G41,G42}
\myLC{G41}{G411}
\myLC{G42}{G421}
\myLC{F15}{F151}
\myLC{F16}{F161}
\myLC{F19}{F191}
\myLC{F20}{F201}
\myLC{F21}{F211,F212}
\myLC{F22}{F221}
\myLC{F23}{F231}
\myLC{F24}{F241,F242}
\myRC{B}{B1,B2,B3,B4,B5,B6,B7,B8}
\myRC{B2}{B21,B22,B23}
\myRC{B3}{B31}
\myRC{B4}{B41}
\myRC{B5}{B51}
\myRC{B6}{B61,B62,B63}
\myRC{B61}{B611}
\myRC{B62}{B621,B622,B623,B624,B625,B626}
\myRC{B63}{B631,B632}
\myRC{B7}{B71}
\myRC{B8}{B81,B82}
\myRC{D}{D1,D2,D3,D4}
\myRC{D4}{H1,H2,H3,H4,H5,H6,H7,H8,H9,H10,H11,H12,H13,H14,H15,H16,H17,H18,H19,H20,H21}
\myRC{H7}{H71,H72}
\myRC{H8}{H81}
\myRC{H81}{H811,H812}
\myRC{H9}{H91}
\myRC{H11}{H111}
\myRC{H13}{H131,H132}
\myRC{H14}{H141}
\myRC{H141}{H1411}
\myRC{H15}{H151,H152,H153}
\myRC{H16}{H161}
\myRC{H17}{H171}
\myRC{H18}{H181}
\myRC{H19}{H191}
\myRC{H191}{H1911}
\myRC{H20}{H201,H202,H203}
\myRC{H201}{H2011}
\myRC{H203}{H2031}
\myRC{H21}{H211,H212,H213,H214}
\myRC{H214}{K1,K2,K3,K4,K5}
\myRC{F}{R1,R2,R3,R4,R5,R6,R7,R8,R9,R10}
% center curves
\foreach \myc in {A,E} \draw[conn0] (cc) .. controls (cc |- \myc.east) .. (\myc.east);
\draw[conn0] (cc) -- (C.east);
\foreach \myc in {Q,B,D,F} \draw[conn0] (cc) .. controls (cc |- \myc.west) .. (\myc.west);
\node[ctrs] (ctr) at (cc) {人教版九年级下物理教案};
\end{tikzpicture}
\end{document}
